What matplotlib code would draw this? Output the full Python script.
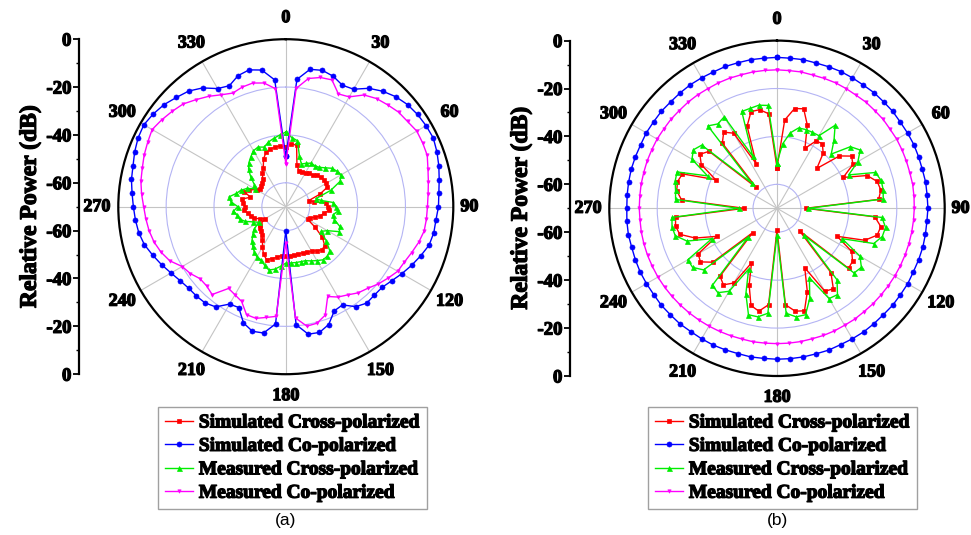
import numpy as np
import matplotlib
matplotlib.use('Agg')
import matplotlib.pyplot as plt
from matplotlib import patheffects as pe

# ---------------- data ----------------
angles_deg = list(range(0, 360, 5))
theta_ticks = [0, 30, 60, 90, 120, 150, 180, 210, 240, 270, 300, 330]
theta_labels = ['0', '30', '60', '90', '120', '150', '180', '210', '240', '270', '300', '330']
r_tick_labels = ['0', '-20', '-40', '-60', '-60', '-40', '-20', '0']
legend_labels = ['Simulated Cross-polarized', 'Simulated Co-polarized',
                 'Measured Cross-polarized', 'Measured Co-polarized']

# panel (a)
a_sim_co = [-49, -16.6, -11.7, -11, -12, -14, -13.3, -9.6, -7, -5, -3.6, -2.8,
            -2.3, -2.0, -2.8, -3.8, -4.9, -5.8, -6.2, -7, -7.2, -8, -10, -12,
            -14, -16, -17.5, -17.7, -17.4, -19, -22.6, -22, -17.6, -15.6, -15.9, -20.5,
            -60, -20.8, -16.4, -16.1, -18.3, -23.5, -23, -18.9, -17.5, -17.2, -17, -16.1,
            -14.6, -12.7, -10.8, -8.8, -7.6, -6.9, -6.3, -5.5, -4.5, -3.9, -2.8, -1.9,
            -1.5, -2.4, -3.6, -5.4, -6.9, -9.4, -13, -14.2, -11.7, -10.8, -12, -16.8]
a_meas_co = [-52, -20.4, -15.6, -14.1, -13.6, -18, -17, -13, -11, -9.8, -8.5, -7.9,
             -6.8, -6.9, -7.1, -8.5, -9.5, -10.3, -10.8, -11, -11.3, -12.5, -14, -15.3,
             -16, -17.9, -19.7, -21.7, -23, -25, -26.4, -28.6, -21.8, -19.6, -19.3, -23.3,
             -55, -24, -23, -21.7, -22, -26.3, -27.5, -28.3, -22.1, -23.2, -23.2, -21.3,
             -20, -16.5, -14.5, -13, -12, -11.3, -10.6, -9.5, -8.5, -7.9, -7, -6.3,
             -5.5, -6.7, -8, -9.3, -11.6, -13.7, -16, -17.6, -16.8, -16.5, -17.5, -20.5]
a_sim_cross = [-45, -43.5, -44, -52, -54, -54, -53.5, -53, -52.5, -51.5, -51, -50.5,
               -50.5, -51, -55, -60, -58, -53, -52.5, -52, -54, -55, -57, -59,
               -59.5, -55, -50, -47, -46.5, -47.5, -48.5, -49, -49.5, -49.5, -49.5, -49.5,
               -49.6, -49.5, -48.5, -47.5, -46.5, -48, -50.5, -53, -54.5, -55.5, -56, -57,
               -60, -58, -56, -55, -54, -52.5, -53, -52, -51.5, -54.7, -51.5, -53,
               -56, -57, -56.4, -56, -55, -53, -51.2, -48, -45.8, -45, -44.7, -44.5]
a_meas_cross = [-38.8, -41, -42, -48, -51, -50, -49, -49, -48.5, -47, -45, -44,
                -43.3, -45, -50, -57, -55, -50, -49, -48.3, -50, -49, -46, -45.3,
                -50, -52, -48, -44, -43, -42.9, -44, -45, -46, -46.2, -46.3, -46.4,
                -46.4, -45, -43.5, -42.6, -44, -45.5, -45.8, -47, -48.5, -50, -52, -54,
                -57, -55, -52, -50, -49.5, -48, -50, -47, -46, -48.6, -50, -52,
                -55, -54, -51, -48, -46, -44.5, -43, -42.5, -43.5, -42, -41, -40]

# panel (b)
b_sim_co = [-7.0, -7.1, -7.0, -7.2, -7.1, -7.0, -7.1, -7.2, -7.0, -7.1, -7.0, -7.2,
            -7.1, -7.0, -7.1, -7.2, -7.0, -7.1, -7.0, -7.2, -7.1, -7.0, -7.1, -7.2,
            -7.0, -7.1, -7.0, -7.2, -7.1, -7.0, -7.1, -7.2, -7.0, -7.1, -7.0, -7.0,
            -7.0, -7.1, -7.0, -7.2, -7.1, -7.0, -7.1, -7.2, -7.0, -7.1, -7.0, -7.2,
            -7.1, -7.0, -7.1, -7.2, -7.0, -7.1, -7.3, -7.2, -7.1, -7.0, -7.1, -7.2,
            -7.0, -7.1, -7.0, -7.2, -7.1, -7.0, -7.1, -7.2, -7.0, -7.1, -7.0, -7.1]
b_meas_co = [-12.2, -12.3, -12.2, -12.4, -12.3, -12.2, -12.3, -12.4, -12.2, -12.3, -12.2, -12.4,
             -12.3, -12.4, -12.5, -12.6, -12.5, -12.6, -12.7, -12.8, -12.9, -13.0, -13.1, -13.2,
             -13.3, -13.4, -13.5, -13.5, -13.6, -13.5, -13.6, -13.5, -13.5, -13.6, -13.5, -13.5,
             -13.5, -13.5, -13.4, -13.5, -13.4, -13.3, -13.2, -13.1, -13.0, -12.9, -12.8, -12.7,
             -12.6, -12.6, -12.5, -12.5, -12.5, -12.6, -12.5, -12.5, -12.4, -12.4, -12.3, -12.3,
             -12.2, -12.3, -12.2, -12.3, -12.2, -12.2, -12.3, -12.2, -12.2, -12.3, -12.2, -12.2]
b_sim_cross = [-53, -33, -27.7, -27, -33, -42.4, -37.6, -37, -40, -46.5, -36, -32,
               -33.4, -39.5, -30, -26.7, -26, -27.4, -58, -29, -26, -26.7, -31, -42.3,
               -34, -31.5, -31, -56.7, -35, -29, -30, -42.6, -33, -25.7, -26.4, -29.6,
               -61, -29.6, -26.4, -28, -36, -44.8, -34, -31, -33, -55.7, -35, -31,
               -32, -42.3, -33.7, -28, -27, -27.5, -56.3, -30, -27.5, -27, -28, -41.7,
               -33.5, -30.7, -33, -57.6, -34.5, -31.2, -33.8, -49.4, -33.5, -28.2, -28.2, -30.4]
b_meas_cross = [-51, -43, -38, -35.3, -35, -35, -35, -27.7, -33, -38, -30, -27.6,
                -31, -37, -26.3, -25, -25, -25.5, -57, -26, -24, -24.5, -27, -40,
                -30, -27, -28, -54, -31, -26, -26.5, -38, -30, -24, -24, -26,
                -59, -26, -24, -24, -32, -42, -30, -27, -28, -53, -30, -27,
                -27, -40, -30, -26, -25.5, -26, -54, -27.5, -27, -26, -25.6, -38,
                -29, -27.4, -29, -55, -25.1, -27, -25.9, -46, -27, -26.8, -26.3, -26.9]

# ---------------- style ----------------
SERIF = ['Liberation Serif', 'DejaVu Serif']
BOLD = [pe.withStroke(linewidth=0.9, foreground='black')]
COLORS = ['#ff0000', '#0000ff', '#00ee00', '#ff00ff']
MARKERS = ['s', 'o', '^', 'v']
MSIZES = [2.8, 3.6, 3.6, 2.4]
LABEL_R_PX = 189.0

fig = plt.figure(figsize=(9.71, 5.35), dpi=100)
W, H = 971.0, 535.0


def closed(vals):
    th = np.deg2rad(np.r_[angles_deg, angles_deg[:1]])
    return th, np.r_[vals, vals[:1]]


def panel(cx, cy, rad, axis_x, series, leg_xy, caption):
    rect = [(cx - rad) / W, (H - cy - rad) / H, 2 * rad / W, 2 * rad / H]
    ax = fig.add_axes(rect, projection='polar')
    ax.set_theta_zero_location('N')
    ax.set_theta_direction(-1)
    ax.set_rlim(-70, 0)
    ax.set_rticks([-60, -40, -20])
    ax.set_yticklabels([])
    ax.set_xticks(np.deg2rad(theta_ticks))
    ax.set_xticklabels([])
    ax.set_xticks(np.deg2rad(np.arange(15, 360, 30)), minor=True)
    ax.tick_params(axis='x', which='both', direction='in', length=4, width=1)
    ax.xaxis.grid(True, which='major', color='#c4c4c4', lw=0.8)
    ax.yaxis.grid(True, color='#b4b4f4', lw=0.8)
    ax.spines['polar'].set_linewidth(1.6)
    handles = []
    for vals, c, m, ms, lab in zip(series, COLORS, MARKERS, MSIZES, legend_labels):
        th, r = closed(vals)
        h, = ax.plot(th, r, color=c, marker=m, markersize=ms, lw=1.0,
                     markeredgewidth=0.5, label=lab, clip_on=False)
        handles.append(h)
    ax.set_rlim(-70, 0)
    # angle labels outside the circle
    db_per_px = 70.0 / rad
    for deg, lab in zip(theta_ticks, theta_labels):
        rp = LABEL_R_PX if deg != 90 else 183.5
        t = ax.text(np.deg2rad(deg), rp * db_per_px - 70, lab, ha='center', va='center',
                    fontfamily=SERIF, fontweight='bold', fontsize=13, clip_on=False)
        t.set_path_effects(BOLD)

    lax = fig.add_axes([axis_x / W, rect[1], 0.0005, rect[3]])
    lax.set_ylim(-70, 70)
    for s in ['top', 'right', 'bottom']:
        lax.spines[s].set_visible(False)
    lax.spines['left'].set_linewidth(1.6)
    lax.set_xticks([])
    lax.set_yticks([70, 50, 30, 10, -10, -30, -50, -70])
    lax.set_yticklabels(r_tick_labels, fontfamily=SERIF, fontweight='bold', fontsize=13.5)
    lax.set_yticks([60, 40, 20, 0, -20, -40, -60], minor=True)
    lax.tick_params(axis='y', which='major', direction='out', length=4, width=1.3, pad=1.5)
    lax.tick_params(axis='y', which='minor', direction='out', length=2.5, width=1.0)
    yl = lax.set_ylabel('Relative Power (dB)', fontsize=17, fontweight='bold',
                        fontfamily=SERIF, labelpad=4)
    yl.set_path_effects(BOLD)
    for tl in lax.get_yticklabels():
        tl.set_path_effects(BOLD)
    lax.patch.set_visible(False)

    leg = fig.legend(handles=handles, loc='upper left',
                     bbox_to_anchor=(leg_xy[0] / W, 1 - leg_xy[1] / H),
                     bbox_transform=fig.transFigure, borderaxespad=0,
                     prop={'family': SERIF, 'weight': 'bold', 'size': 14},
                     handlelength=1.45, handletextpad=0.3, labelspacing=0.3,
                     borderpad=0.35, fancybox=False, framealpha=1,
                     edgecolor='#a0a0a0', markerscale=1.0)
    leg.get_frame().set_linewidth(1.0)
    for t in leg.get_texts():
        t.set_path_effects(BOLD)
    fig.text(cx / W, 1 - 520 / H, caption, ha='center', va='center',
             fontfamily=['Liberation Sans', 'DejaVu Sans'], fontsize=12.5)


panel(285.8, 206.7, 167.5, 79, [a_sim_cross, a_sim_co, a_meas_cross, a_meas_co],
      (158, 407), '(a)')
panel(777, 208.3, 167.7, 570, [b_sim_cross, b_sim_co, b_meas_cross, b_meas_co],
      (648, 407), '(b)')

fig.savefig('out.png', dpi=100)
